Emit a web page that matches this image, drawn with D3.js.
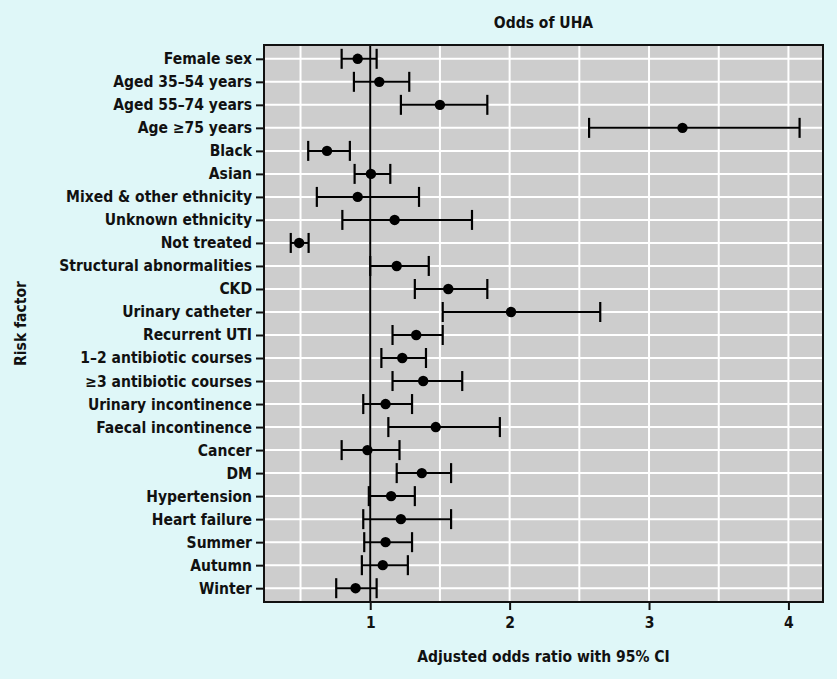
<!DOCTYPE html>
<html>
<head>
<meta charset="utf-8">
<script src="https://cdn.jsdelivr.net/npm/d3@7"></script>
<style>
  html, body { margin: 0; padding: 0; background: #dff7f8; }
  svg { display: block; }
  text { font-family: "DejaVu Sans Condensed", "DejaVu Sans", sans-serif; font-weight: bold; fill: #111; }
</style>
</head>
<body>
<svg id="chart" width="837" height="679"></svg>
<script>
const factors = ["Female sex","Aged 35\u201354 years","Aged 55\u201374 years","Age \u226575 years","Black","Asian",
  "Mixed & other ethnicity","Unknown ethnicity","Not treated","Structural abnormalities","CKD","Urinary catheter",
  "Recurrent UTI","1\u20132 antibiotic courses","\u22653 antibiotic courses","Urinary incontinence","Faecal incontinence",
  "Cancer","DM","Hypertension","Heart failure","Summer","Autumn","Winter"];
const oddsRatio = [0.91,1.065,1.50,3.24,0.69,1.005,0.91,1.175,0.49,1.19,1.56,2.01,1.33,1.23,1.38,1.11,1.47,0.98,1.37,1.15,1.22,1.11,1.09,0.895];
const ciLower  = [0.795,0.883,1.22,2.57,0.555,0.888,0.617,0.80,0.43,1.00,1.32,1.52,1.16,1.08,1.16,0.95,1.13,0.795,1.19,0.99,0.95,0.957,0.94,0.756];
const ciUpper  = [1.046,1.28,1.84,4.08,0.854,1.144,1.35,1.73,0.558,1.42,1.84,2.65,1.52,1.40,1.66,1.30,1.93,1.21,1.58,1.32,1.58,1.30,1.27,1.046];
const xTicks = [1,2,3,4];
const xMinor = [0.5,1.5,2.5,3.5];

const FONT = '"DejaVu Sans Condensed", "DejaVu Sans", sans-serif';
const FS = 15.5;

const svg = d3.select("#chart");
const W = 837, H = 679;
const m = {left: 264, right: W - 823, top: 45, bottom: H - 602};
const pw = W - m.left - m.right, ph = H - m.top - m.bottom;

const x = d3.scaleLinear().domain([0.238, 4.248]).range([m.left, m.left + pw]);
const y = d3.scalePoint().domain(factors).range([m.top, m.top + ph]).padding(0.6);

const g = svg.append("g");
g.append("rect").attr("x", m.left).attr("y", m.top).attr("width", pw).attr("height", ph).attr("fill", "#cdcdcd");

// grid
g.selectAll("line.hg").data(factors).join("line")
  .attr("x1", m.left).attr("x2", m.left + pw)
  .attr("y1", d => y(d)).attr("y2", d => y(d))
  .attr("stroke", "#fff").attr("stroke-width", 2);
g.selectAll("line.vmin").data(xMinor).join("line")
  .attr("x1", d => x(d)).attr("x2", d => x(d))
  .attr("y1", m.top).attr("y2", m.top + ph)
  .attr("stroke", "#fff").attr("stroke-width", 2);
g.selectAll("line.vmaj").data(xTicks).join("line")
  .attr("x1", d => x(d)).attr("x2", d => x(d))
  .attr("y1", m.top).attr("y2", m.top + ph)
  .attr("stroke", "#fff").attr("stroke-width", 2);

// reference line at 1
g.append("line").attr("x1", x(1)).attr("x2", x(1)).attr("y1", m.top).attr("y2", m.top + ph)
  .attr("stroke", "#000").attr("stroke-width", 2);

// error bars
const rows = factors.map((f, i) => ({f, or: oddsRatio[i], lo: ciLower[i], hi: ciUpper[i]}));
const eb = g.selectAll("g.eb").data(rows).join("g");
eb.append("line").attr("x1", d => x(d.lo)).attr("x2", d => x(d.hi))
  .attr("y1", d => y(d.f)).attr("y2", d => y(d.f)).attr("stroke", "#000").attr("stroke-width", 2);
eb.append("line").attr("x1", d => x(d.lo)).attr("x2", d => x(d.lo))
  .attr("y1", d => y(d.f) - 10).attr("y2", d => y(d.f) + 10).attr("stroke", "#000").attr("stroke-width", 2.2);
eb.append("line").attr("x1", d => x(d.hi)).attr("x2", d => x(d.hi))
  .attr("y1", d => y(d.f) - 10).attr("y2", d => y(d.f) + 10).attr("stroke", "#000").attr("stroke-width", 2.2);
eb.append("circle").attr("cx", d => x(d.or)).attr("cy", d => y(d.f)).attr("r", 5.2).attr("fill", "#000");

// panel border
g.append("rect").attr("x", m.left).attr("y", m.top).attr("width", pw).attr("height", ph)
  .attr("fill", "none").attr("stroke", "#111").attr("stroke-width", 2);

// axes
const yAxis = d3.axisLeft(y).tickSize(7).tickPadding(4);
const ya = svg.append("g").attr("transform", `translate(${m.left - 1},0)`).call(yAxis);
ya.select(".domain").remove();
ya.selectAll("line").attr("stroke", "#111").attr("stroke-width", 2);
ya.selectAll("text").attr("font-size", FS).attr("fill", "#111")
  .style("font-family", FONT).style("font-weight", "bold");

const xAxis = d3.axisBottom(x).tickValues(xTicks).tickFormat(d3.format("d")).tickSize(7).tickPadding(7);
const xa = svg.append("g").attr("transform", `translate(0,${m.top + ph + 1})`).call(xAxis);
xa.select(".domain").remove();
xa.selectAll("line").attr("stroke", "#111").attr("stroke-width", 2);
xa.selectAll("text").attr("font-size", FS).attr("fill", "#111")
  .style("font-family", FONT).style("font-weight", "bold");

// titles
svg.append("text").attr("x", m.left + pw / 2).attr("y", 28).attr("text-anchor", "middle")
  .attr("font-size", FS).text("Odds of UHA");
svg.append("text").attr("x", m.left + pw / 2).attr("y", 662).attr("text-anchor", "middle")
  .attr("font-size", FS).text("Adjusted odds ratio with 95% CI");
svg.append("text").attr("transform", `translate(26,${m.top + ph / 2}) rotate(-90)`).attr("text-anchor", "middle")
  .attr("font-size", FS).text("Risk factor");
</script>
</body>
</html>
